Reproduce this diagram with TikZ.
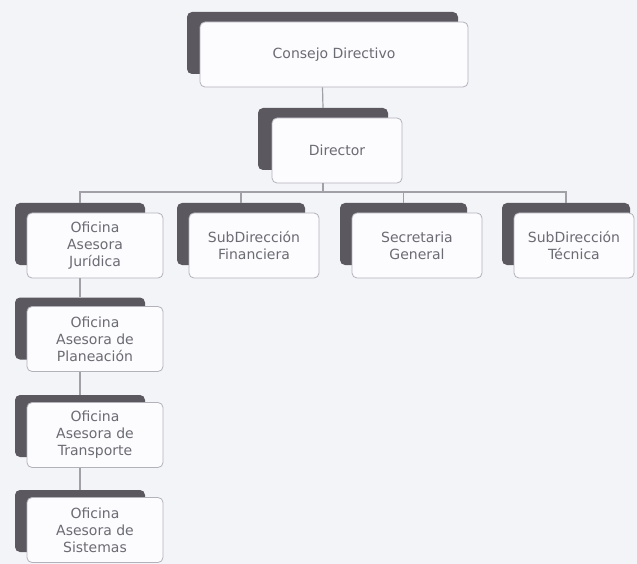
\documentclass[tikz,border=0pt]{standalone}
\usepackage{fontspec}
\setmainfont{DejaVu Sans}
\definecolor{bgc}{HTML}{F3F4F8}
\definecolor{shadowc}{HTML}{5B5860}
\definecolor{frontc}{HTML}{FCFCFE}
\definecolor{edgec}{HTML}{B2B2BA}
\definecolor{linec}{HTML}{A0A0A6}
\definecolor{textc}{HTML}{6B6B73}
\begin{document}
\begin{tikzpicture}[x=1pt,y=-1pt,
  back/.style={fill=shadowc, draw=none, rounded corners=5pt, minimum width=#1, minimum height=62pt, inner sep=0pt},
  front/.style={fill=frontc, draw=edgec, line width=0.8pt, rounded corners=5pt, minimum width=#1, minimum height=65pt, inner sep=2pt, align=center, text=textc, font=\fontsize{14}{17}\selectfont},
  conn/.style={draw=linec, line width=1.2pt}
]
\useasboundingbox (0,0) rectangle (637,564);
\fill[bgc] (0,0) rectangle (637,564);

% top
\node[back=271pt] (cdS) at (322.5,43) {};
\node[front=268pt] (cd) at (334,54.5) {Consejo Directivo};
\node[back=130pt] (dirS) at (323,139) {};
\node[front=130pt] (dir) at (337,150.5) {Director};

% row 2
\node[back=130pt] (jurS) at (80,234) {};
\node[front=136pt] (jur) at (95,245.5) {Oficina\\Asesora\\Jurídica};
\node[back=128pt] (finS) at (241,234) {};
\node[front=130pt] (fin) at (254,245.5) {SubDirección\\Financiera};
\node[back=127pt] (secS) at (403.5,234) {};
\node[front=130pt] (sec) at (417,245.5) {Secretaria\\General};
\node[back=128pt] (tecS) at (566,234) {};
\node[front=120pt] (tec) at (574,245.5) {SubDirección\\Técnica};

% column
\node[back=130pt] (plaS) at (80,328.5) {};
\node[front=136pt] (pla) at (95,339) {Oficina\\Asesora de\\Planeación};
\node[back=130pt] (traS) at (80,426) {};
\node[front=136pt] (tra) at (95,435) {Oficina\\Asesora de\\Transporte};
\node[back=130pt] (sisS) at (80,521) {};
\node[front=136pt] (sis) at (95,530) {Oficina\\Asesora de\\Sistemas};

% connectors
\coordinate (bus) at (323,192);
\draw[conn] (cdS.center |- cd.south) -- (dirS.north);
\draw[conn] (dirS.center |- dir.south) -- (dirS.center |- bus);
\draw[conn] (jurS.north) -- (jurS.north |- bus) -- (tecS.north |- bus) -- (tecS.north);
\draw[conn] (finS.north |- bus) -- (finS.north);
\draw[conn] (secS.north |- bus) -- (secS.north);
\draw[conn] (jurS.center |- jur.south) -- (plaS.north);
\draw[conn] (plaS.center |- pla.south) -- (traS.north);
\draw[conn] (traS.center |- tra.south) -- (sisS.north);
\end{tikzpicture}
\end{document}
